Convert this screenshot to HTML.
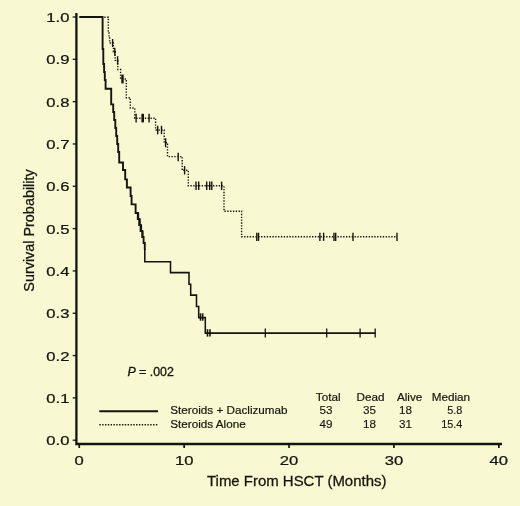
<!DOCTYPE html>
<html lang="en">
<head>
<meta charset="utf-8">
<title>Survival Probability — Time From HSCT (Months)</title>
<style>
html,body{margin:0;padding:0;background:#F8F8D2;}
body{width:520px;height:506px;overflow:hidden;}
svg{display:block;}
text{font-family:"Liberation Sans",sans-serif;fill:#15150d;stroke:#15150d;}
</style>
</head>
<body>
<svg width="520" height="506" viewBox="0 0 520 506">
<rect width="520" height="506" fill="#F8F8D2"/>
<path d="M76.4 13.1 V444 H502" fill="none" stroke="#15150d" stroke-width="2.3" stroke-linejoin="miter"/>
<path d="M72.7 440.20 H76" stroke="#15150d" stroke-width="1.3"/>
<path d="M72.7 397.88 H76" stroke="#15150d" stroke-width="1.3"/>
<path d="M72.7 355.56 H76" stroke="#15150d" stroke-width="1.3"/>
<path d="M72.7 313.24 H76" stroke="#15150d" stroke-width="1.3"/>
<path d="M72.7 270.92 H76" stroke="#15150d" stroke-width="1.3"/>
<path d="M72.7 228.60 H76" stroke="#15150d" stroke-width="1.3"/>
<path d="M72.7 186.28 H76" stroke="#15150d" stroke-width="1.3"/>
<path d="M72.7 143.96 H76" stroke="#15150d" stroke-width="1.3"/>
<path d="M72.7 101.64 H76" stroke="#15150d" stroke-width="1.3"/>
<path d="M72.7 59.32 H76" stroke="#15150d" stroke-width="1.3"/>
<path d="M72.7 17.00 H76" stroke="#15150d" stroke-width="1.3"/>
<path d="M79.25 444 V448" stroke="#15150d" stroke-width="1.7"/>
<path d="M184.15 444 V448" stroke="#15150d" stroke-width="1.7"/>
<path d="M289.05 444 V448" stroke="#15150d" stroke-width="1.7"/>
<path d="M393.95 444 V448" stroke="#15150d" stroke-width="1.7"/>
<path d="M498.85 444 V448" stroke="#15150d" stroke-width="1.7"/>
<text transform="translate(69.50 445.30) scale(1.3200 1)" font-size="12.6" text-anchor="end" stroke-width="0.24" >0.0</text>
<text transform="translate(69.50 402.98) scale(1.3200 1)" font-size="12.6" text-anchor="end" stroke-width="0.24" >0.1</text>
<text transform="translate(69.50 360.66) scale(1.3200 1)" font-size="12.6" text-anchor="end" stroke-width="0.24" >0.2</text>
<text transform="translate(69.50 318.34) scale(1.3200 1)" font-size="12.6" text-anchor="end" stroke-width="0.24" >0.3</text>
<text transform="translate(69.50 276.02) scale(1.3200 1)" font-size="12.6" text-anchor="end" stroke-width="0.24" >0.4</text>
<text transform="translate(69.50 233.70) scale(1.3200 1)" font-size="12.6" text-anchor="end" stroke-width="0.24" >0.5</text>
<text transform="translate(69.50 191.38) scale(1.3200 1)" font-size="12.6" text-anchor="end" stroke-width="0.24" >0.6</text>
<text transform="translate(69.50 149.06) scale(1.3200 1)" font-size="12.6" text-anchor="end" stroke-width="0.24" >0.7</text>
<text transform="translate(69.50 106.74) scale(1.3200 1)" font-size="12.6" text-anchor="end" stroke-width="0.24" >0.8</text>
<text transform="translate(69.50 64.42) scale(1.3200 1)" font-size="12.6" text-anchor="end" stroke-width="0.24" >0.9</text>
<text transform="translate(69.50 22.10) scale(1.3200 1)" font-size="12.6" text-anchor="end" stroke-width="0.24" >1.0</text>
<text transform="translate(79.25 464.60) scale(1.3200 1)" font-size="12.6" text-anchor="middle" stroke-width="0.24" >0</text>
<text transform="translate(184.15 464.60) scale(1.3200 1)" font-size="12.6" text-anchor="middle" stroke-width="0.24" >10</text>
<text transform="translate(289.05 464.60) scale(1.3200 1)" font-size="12.6" text-anchor="middle" stroke-width="0.24" >20</text>
<text transform="translate(393.95 464.60) scale(1.3200 1)" font-size="12.6" text-anchor="middle" stroke-width="0.24" >30</text>
<text transform="translate(498.85 464.60) scale(1.3200 1)" font-size="12.6" text-anchor="middle" stroke-width="0.24" >40</text>
<text transform="translate(207.00 485.50) scale(1.0320 1)" font-size="14.5" text-anchor="start" stroke-width="0.25" >Time From HSCT (Months)</text>
<text transform="translate(34.2 291.7) rotate(-90)" font-size="14.4" stroke-width="0.25">Survival Probability</text>
<text x="127.4" y="376.4" font-size="12.4" stroke-width="0.3"><tspan font-style="italic">P</tspan> = .002</text>
<path d="M99.3 411.2 H158" stroke="#15150d" stroke-width="2"/>
<path d="M99.3 424.8 H157.6" stroke="#15150d" stroke-width="1.5" stroke-dasharray="1.4 1.43"/>
<text transform="translate(170.30 414.30) scale(1.0000 1)" font-size="11.7" text-anchor="start" stroke-width="0.2" >Steroids + Daclizumab</text>
<text transform="translate(170.30 427.50) scale(1.0000 1)" font-size="11.7" text-anchor="start" stroke-width="0.2" >Steroids Alone</text>
<text transform="translate(315.80 401.40) scale(1.0000 1)" font-size="11.7" text-anchor="start" stroke-width="0.2" >Total</text>
<text transform="translate(356.50 401.40) scale(1.0000 1)" font-size="11.7" text-anchor="start" stroke-width="0.2" >Dead</text>
<text transform="translate(396.90 401.40) scale(1.0000 1)" font-size="11.7" text-anchor="start" stroke-width="0.2" >Alive</text>
<text transform="translate(431.70 401.40) scale(1.0000 1)" font-size="11.7" text-anchor="start" stroke-width="0.2" >Median</text>
<text transform="translate(332.50 414.20) scale(1.1700 1)" font-size="10.0" text-anchor="end" stroke-width="0.12" >53</text>
<text transform="translate(375.90 414.20) scale(1.1700 1)" font-size="10.0" text-anchor="end" stroke-width="0.12" >35</text>
<text transform="translate(412.10 414.20) scale(1.1700 1)" font-size="10.0" text-anchor="end" stroke-width="0.12" >18</text>
<text transform="translate(462.40 414.20) scale(1.0900 1)" font-size="10.0" text-anchor="end" stroke-width="0.12" >5.8</text>
<text transform="translate(332.50 427.70) scale(1.1700 1)" font-size="10.0" text-anchor="end" stroke-width="0.12" >49</text>
<text transform="translate(375.90 427.70) scale(1.1700 1)" font-size="10.0" text-anchor="end" stroke-width="0.12" >18</text>
<text transform="translate(412.10 427.70) scale(1.1700 1)" font-size="10.0" text-anchor="end" stroke-width="0.12" >31</text>
<text transform="translate(462.40 427.70) scale(1.0900 1)" font-size="10.0" text-anchor="end" stroke-width="0.12" >15.4</text>
<path d="M144.8 249 V261.7 H170.5 V272.6 H189 V284.2 H190.7 V295.1 H196.5 V306.5 H198.7 V317.6 H205.3 V333.1 H375.2" fill="none" stroke="#15150d" stroke-width="1.55" stroke-linejoin="miter"/>
<path d="M79.25 17 H102.6 V49 H103.3 V64 H104.1 V72 H104.8 V80 H105.6 V88.7 H111.2 V104.4 H113.2 V112 H114.2 V120 H115.3 V128 H116.2 V136 H117.2 V144 H118.2 V152 H119.2 V162.5 H123 V170 H125.2 V179.4 H126.9 V187.5 H130.6 V196 H131.6 V204.4 H135.6 V213 H137.8 V219 H139.2 V225 H140.6 V231 H142.2 V237 H143.6 V243 H144.8 V250" fill="none" stroke="#15150d" stroke-width="1.9" stroke-linejoin="miter"/>
<path d="M138.30 212.50 V219.50" stroke="#15150d" stroke-width="1.7"/>
<path d="M139.90 218.50 V225.50" stroke="#15150d" stroke-width="1.7"/>
<path d="M141.30 224.50 V231.50" stroke="#15150d" stroke-width="1.6"/>
<path d="M142.80 230.50 V237.50" stroke="#15150d" stroke-width="1.5"/>
<path d="M200.50 313.30 V320.70" stroke="#15150d" stroke-width="1.6"/><path d="M202.70 313.30 V320.70" stroke="#15150d" stroke-width="1.6"/>
<path d="M207.50 329.20 V336.60" stroke="#15150d" stroke-width="1.6"/><path d="M210.00 329.20 V336.60" stroke="#15150d" stroke-width="1.6"/>
<path d="M265.30 328.60 V337.40" stroke="#15150d" stroke-width="1.3"/><path d="M326.70 328.60 V337.40" stroke="#15150d" stroke-width="1.3"/><path d="M360.10 328.60 V337.40" stroke="#15150d" stroke-width="1.3"/><path d="M375.20 328.60 V337.40" stroke="#15150d" stroke-width="1.3"/>
<path d="M104.3 17.2 H108.3 V31 H109 V37 H109.6 V43 H113.4 V51.8 H115.2 V60.4 H117.8 V69.5 H120.6 V79 H126.3 V97.7 H130.3 V108 H134.8 V118.2 H155.6 V130 H164.2 V142.7 H167.5 V156.6 H182.2 V170.3 H188.3 V185.8 H224 V211.2 H241.6 V236.8 H397" fill="none" stroke="#15150d" stroke-width="1.4" stroke-dasharray="1.35 1.48"/>
<path d="M112.60 39.00 V47.00" stroke="#15150d" stroke-width="1.4"/>
<path d="M114.80 47.80 V55.80" stroke="#15150d" stroke-width="1.4"/>
<path d="M117.60 56.20 V64.60" stroke="#15150d" stroke-width="1.4"/>
<path d="M122.50 74.60 V83.40" stroke="#15150d" stroke-width="2.4"/>
<path d="M136.10 113.80 V122.40" stroke="#15150d" stroke-width="1.4"/><path d="M142.70 113.80 V122.40" stroke="#15150d" stroke-width="2.6"/><path d="M149.10 113.80 V122.40" stroke="#15150d" stroke-width="1.4"/>
<path d="M157.70 125.80 V134.20" stroke="#15150d" stroke-width="1.4"/><path d="M161.50 125.80 V134.20" stroke="#15150d" stroke-width="1.4"/>
<path d="M165.60 138.20 V147.20" stroke="#15150d" stroke-width="1.4"/>
<path d="M178.20 152.80 V161.20" stroke="#15150d" stroke-width="1.4"/>
<path d="M184.60 166.10 V174.50" stroke="#15150d" stroke-width="1.4"/>
<path d="M196.00 181.60 V190.00" stroke="#15150d" stroke-width="1.4"/><path d="M198.70 181.60 V190.00" stroke="#15150d" stroke-width="1.4"/><path d="M206.70 181.60 V190.00" stroke="#15150d" stroke-width="1.4"/><path d="M209.70 181.60 V190.00" stroke="#15150d" stroke-width="1.4"/><path d="M211.80 181.60 V190.00" stroke="#15150d" stroke-width="1.4"/><path d="M221.60 181.60 V190.00" stroke="#15150d" stroke-width="1.4"/>
<path d="M256.80 232.70 V240.90" stroke="#15150d" stroke-width="1.4"/><path d="M258.50 232.70 V240.90" stroke="#15150d" stroke-width="1.4"/><path d="M319.90 232.70 V240.90" stroke="#15150d" stroke-width="1.4"/><path d="M323.60 232.70 V240.90" stroke="#15150d" stroke-width="1.4"/><path d="M334.00 232.70 V240.90" stroke="#15150d" stroke-width="1.4"/><path d="M335.70 232.70 V240.90" stroke="#15150d" stroke-width="1.4"/><path d="M353.00 232.70 V240.90" stroke="#15150d" stroke-width="1.4"/><path d="M397.00 232.70 V240.90" stroke="#15150d" stroke-width="1.4"/>
</svg>
</body>
</html>
